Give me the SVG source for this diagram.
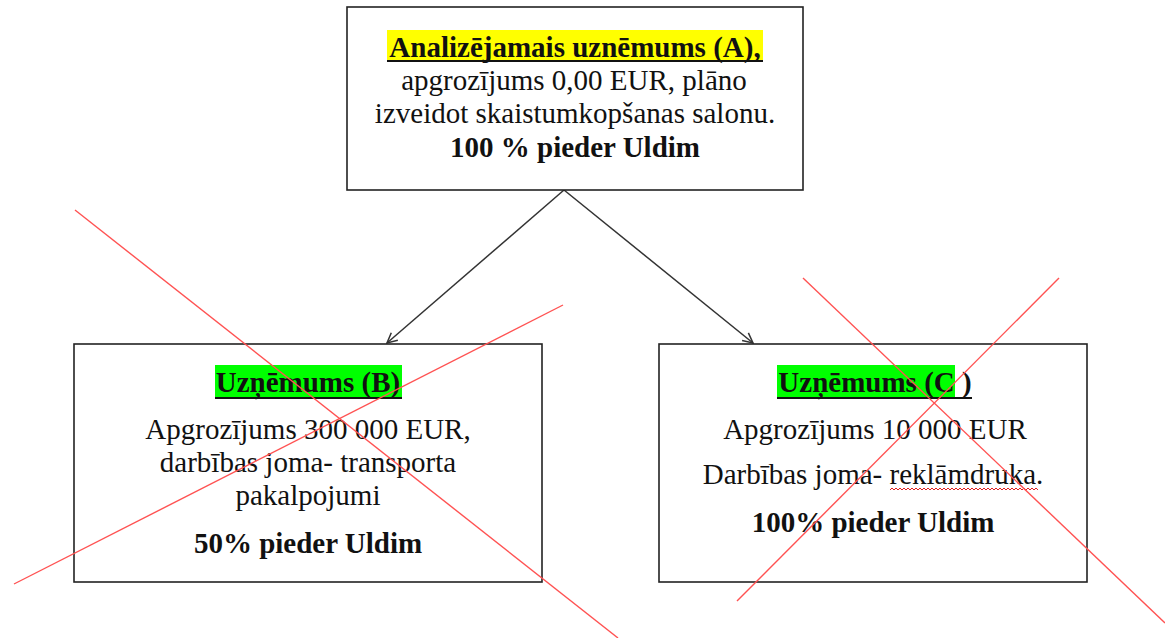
<svg xmlns="http://www.w3.org/2000/svg" width="1165" height="638" viewBox="0 0 1165 638">
<defs>
<style>
.box{fill:#fff;stroke:#222;stroke-width:1.6}
.t{font-family:"Liberation Serif","Times New Roman",serif;font-size:29px;fill:#111;text-anchor:middle}
.b{font-weight:bold}
.ul{stroke:#111;stroke-width:2}
.conn{stroke:#333;stroke-width:1.5;fill:none}
.cross{stroke:#ff5252;stroke-width:1.4;fill:none}
</style>
<marker id="arr" viewBox="0 0 12 12" refX="11" refY="6" markerWidth="12" markerHeight="12" markerUnits="userSpaceOnUse" orient="auto">
<path d="M1,1 L11,6 L1,11" fill="none" stroke="#333" stroke-width="1.5"/>
</marker>
</defs>
<rect width="1165" height="638" fill="#fff"/>
<g id="connectors">
<line class="conn" x1="564" y1="190" x2="387" y2="343" marker-end="url(#arr)"/>
<line class="conn" x1="564" y1="190" x2="753" y2="343" marker-end="url(#arr)"/>
</g>
<g id="nodeA">
<rect class="box" x="347" y="7" width="456" height="183"/>
<rect x="387" y="30" width="376" height="32" fill="#ffff00"/>
<text class="t b" x="575" y="57">Analizējamais uznēmums (A),</text>
<line class="ul" x1="387" y1="61" x2="763" y2="61"/>
<text class="t" x="574" y="90">apgrozījums 0,00 EUR, plāno</text>
<text class="t" x="575" y="123">izveidot skaistumkopšanas salonu.</text>
<text class="t b" x="575" y="157">100 % pieder Uldim</text>
</g>
<g id="nodeB">
<rect class="box" x="74" y="344" width="468" height="238"/>
<rect x="215" y="365" width="187" height="34" fill="#00ff00"/>
<text class="t b" x="308" y="392">Uzņēmums (B)</text>
<line class="ul" x1="215" y1="398" x2="402" y2="398"/>
<text class="t" x="308" y="439">Apgrozījums 300 000 EUR,</text>
<text class="t" x="308" y="472">darbības joma- transporta</text>
<text class="t" x="308" y="505">pakalpojumi</text>
<text class="t b" x="308" y="553">50% pieder Uldim</text>
</g>
<g id="nodeC">
<rect class="box" x="659" y="344" width="428" height="238"/>
<rect x="777" y="365" width="178" height="34" fill="#00ff00"/>
<text class="t b" x="875" y="392">Uzņēmums (C )</text>
<line class="ul" x1="777" y1="398" x2="972" y2="398"/>
<text class="t" x="875" y="439">Apgrozījums 10 000 EUR</text>
<text class="t" x="873" y="484">Darbības joma- reklāmdruka.</text>
<path d="M890,490 l2,-2 2,2 2,-2 2,2 2,-2 2,2 2,-2 2,2 2,-2 2,2 2,-2 2,2 2,-2 2,2 2,-2 2,2 2,-2 2,2 2,-2 2,2 2,-2 2,2 2,-2 2,2 2,-2 2,2 2,-2 2,2 2,-2 2,2 2,-2 2,2 2,-2 2,2 2,-2 2,2 2,-2 2,2 2,-2 2,2 2,-2 2,2 2,-2 2,2 2,-2 2,2 2,-2 2,2 2,-2 2,2 2,-2 2,2 2,-2 2,2 2,-2 2,2 2,-2 2,2 2,-2 2,2 2,-2 2,2 2,-2 2,2 2,-2 2,2 2,-2 2,2 2,-2 2,2 2,-2 2,2 2,-2 2,2" fill="none" stroke="#e02020" stroke-width="1"/>
<text class="t b" x="873" y="532">100% pieder Uldim</text>
</g>
<g id="crossouts">
<line class="cross" x1="75" y1="210" x2="618" y2="638"/>
<line class="cross" x1="14" y1="584" x2="563" y2="305"/>
<line class="cross" x1="803" y1="278" x2="1165" y2="623"/>
<line class="cross" x1="1059" y1="278" x2="737" y2="601"/>
</g>
</svg>
